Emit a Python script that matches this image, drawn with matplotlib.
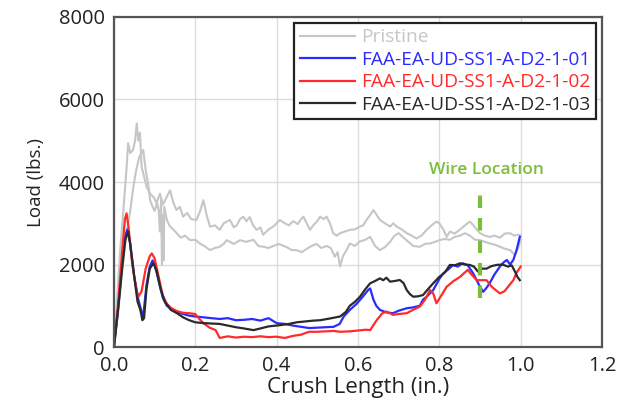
import matplotlib
import matplotlib.pyplot as plt

matplotlib.use("Agg")

plt.rcParams["font.family"] = ["Open Sans", "DejaVu Sans"]

# ---------- data ----------
pristine_a_x = [0, 0.008, 0.015, 0.023, 0.03, 0.035, 0.04, 0.047, 0.052, 0.056,
                0.06, 0.064, 0.068, 0.075, 0.08, 0.09, 0.097, 0.105, 0.113, 0.12,
                0.128, 0.138, 0.146, 0.154, 0.162, 0.17, 0.18, 0.19, 0.203, 0.212,
                0.22, 0.228, 0.236, 0.248, 0.26, 0.27, 0.285, 0.295, 0.302, 0.31,
                0.318, 0.326, 0.334, 0.342, 0.351, 0.36, 0.367, 0.38, 0.392, 0.40,
                0.408, 0.42, 0.43, 0.441, 0.452, 0.46, 0.466, 0.474, 0.482, 0.49,
                0.5, 0.507, 0.515, 0.523, 0.531, 0.539, 0.548, 0.556, 0.568, 0.58,
                0.592, 0.605, 0.613, 0.621, 0.63, 0.638, 0.646, 0.654, 0.666, 0.679,
                0.687, 0.695, 0.708, 0.72, 0.732, 0.744, 0.756, 0.769, 0.781, 0.793,
                0.80, 0.81, 0.818, 0.826, 0.838, 0.851, 0.863, 0.875, 0.884, 0.892,
                0.9, 0.912, 0.924, 0.936, 0.949, 0.961, 0.974, 0.984, 0.994, 1.0]
pristine_a_y = [0, 1200, 2300, 3300, 4200, 4940, 4700, 4780, 5000, 5420,
                5000, 5190, 4370, 4100, 3890, 3700, 3640, 3500, 3720, 3450,
                3600, 3800, 3500, 3320, 3400, 3160, 3250, 3100, 3080, 3300,
                3560, 3200, 2920, 2950, 2840, 3000, 3080, 2900, 2950, 3100,
                3160, 3050, 3150, 2950, 2840, 2900, 2720, 2850, 2920, 3000,
                3080, 3000, 2950, 3050, 2980, 3100, 3160, 3000, 2840, 2950,
                3050, 3160, 3100, 3160, 3000, 2760, 2700, 2760, 2800, 2840,
                2850, 2920, 2950, 3080, 3200, 3320, 3200, 3080, 3000, 2920,
                3000, 2920, 2850, 2760, 2700, 2630, 2700, 2840, 2950, 3040,
                3000, 2850, 2670, 2800, 2750, 2850, 2950, 3040, 2950, 2850,
                2760, 2700, 2670, 2700, 2650, 2750, 2760, 2700, 2720, 2710]

pristine_b_x = [0, 0.01, 0.02, 0.03, 0.04, 0.048, 0.055, 0.062, 0.068, 0.072,
                0.078, 0.085, 0.089, 0.095, 0.1, 0.106, 0.11, 0.113, 0.116, 0.118,
                0.12, 0.122, 0.124, 0.13, 0.138, 0.146, 0.155, 0.165, 0.175, 0.187,
                0.2, 0.211, 0.222, 0.236, 0.248, 0.26, 0.27, 0.277, 0.285, 0.295,
                0.31, 0.325, 0.343, 0.355, 0.367, 0.38, 0.392, 0.405, 0.425, 0.437,
                0.449, 0.462, 0.474, 0.486, 0.498, 0.51, 0.523, 0.533, 0.543, 0.55,
                0.556, 0.563, 0.572, 0.58, 0.592, 0.605, 0.618, 0.63, 0.642, 0.654,
                0.666, 0.679, 0.69, 0.70, 0.712, 0.724, 0.736, 0.752, 0.765, 0.777,
                0.79, 0.80, 0.813, 0.826, 0.838, 0.851, 0.863, 0.875, 0.888, 0.9,
                0.912, 0.924, 0.937, 0.949, 0.962, 0.974, 0.986, 0.994, 1.0]
pristine_b_y = [0, 800, 1800, 2700, 3300, 3900, 4300, 4600, 4700, 4780,
                4300, 3900, 3560, 3400, 3300, 3500, 3300, 2800, 3600, 2000,
                3200, 2100, 3400, 3080, 2920, 2850, 2750, 2650, 2700, 2590,
                2600, 2510, 2450, 2350, 2400, 2430, 2500, 2590, 2550, 2500,
                2590, 2550, 2600, 2450, 2430, 2400, 2450, 2500, 2420, 2350,
                2350, 2300, 2380, 2450, 2500, 2400, 2450, 2400, 2190, 2300,
                1950, 2200, 2350, 2510, 2450, 2560, 2600, 2670, 2450, 2350,
                2420, 2550, 2700, 2760, 2650, 2550, 2450, 2430, 2500, 2510,
                2550, 2590, 2620, 2600, 2670, 2700, 2760, 2700, 2600, 2590,
                2550, 2510, 2480, 2430, 2380, 2350, 2230, 2400, 2600]

blue_x = [0, 0.01, 0.02, 0.028, 0.033, 0.04, 0.05, 0.06, 0.068, 0.072,
          0.08, 0.088, 0.095, 0.10, 0.11, 0.12, 0.13, 0.14, 0.155, 0.17,
          0.185, 0.2, 0.22, 0.24, 0.26, 0.28, 0.30, 0.32, 0.34, 0.36,
          0.38, 0.40, 0.42, 0.44, 0.46, 0.48, 0.50, 0.52, 0.54, 0.555,
          0.565, 0.58, 0.597, 0.61, 0.625, 0.63, 0.638, 0.645, 0.654, 0.67,
          0.686, 0.70, 0.72, 0.735, 0.752, 0.76, 0.769, 0.777, 0.785, 0.80,
          0.81, 0.822, 0.834, 0.845, 0.858, 0.87, 0.883, 0.893, 0.9, 0.908,
          0.915, 0.924, 0.935, 0.949, 0.958, 0.966, 0.974, 0.982, 0.99, 0.998]
blue_y = [0, 900, 2000, 2700, 2850, 2500, 1700, 1150, 850, 750,
          1500, 1950, 2100, 2000, 1600, 1200, 1000, 930, 850, 800,
          760, 740, 720, 700, 680, 700, 650, 660, 680, 640,
          700, 580, 560, 520, 490, 460, 470, 480, 490, 560,
          740, 900, 1050, 1200, 1380, 1420, 1150, 1000, 900, 840,
          820, 880, 940, 960, 1000, 1150, 1220, 1300, 1380, 1650,
          1790, 1880, 1990, 1950, 2030, 1980, 1790, 1600, 1460, 1340,
          1420, 1550, 1750, 1950, 2050, 2110, 2000, 2110, 2350, 2670]

red_x = [0, 0.01, 0.02, 0.027, 0.031, 0.036, 0.045, 0.055, 0.06, 0.068,
         0.078, 0.088, 0.093, 0.1, 0.11, 0.12, 0.13, 0.14, 0.155, 0.17,
         0.185, 0.2, 0.21, 0.22, 0.235, 0.25, 0.26, 0.28, 0.30, 0.32,
         0.34, 0.36, 0.38, 0.40, 0.42, 0.44, 0.46, 0.48, 0.50, 0.52,
         0.54, 0.556, 0.58, 0.60, 0.62, 0.63, 0.646, 0.66, 0.67, 0.686,
         0.70, 0.72, 0.735, 0.752, 0.765, 0.777, 0.785, 0.793, 0.805, 0.818,
         0.835, 0.851, 0.862, 0.87, 0.88, 0.892, 0.905, 0.916, 0.93, 0.949,
         0.96, 0.969, 0.982, 0.99, 1.0]
red_y = [0, 1000, 2300, 3100, 3240, 2900, 2000, 1400, 1220, 1350,
         1900, 2200, 2270, 2150, 1700, 1250, 1050, 950, 870, 830,
         820, 800, 680, 580, 470, 410, 220, 260, 230, 250,
         240, 260, 240, 250, 220, 270, 300, 370, 370, 380,
         390, 370, 380, 400, 420, 410, 650, 820, 860, 780,
         800, 820, 900, 980, 1150, 1380, 1300, 1060, 1250, 1460,
         1600, 1700, 1800, 1870, 1750, 1620, 1620, 1620, 1450, 1300,
         1350, 1460, 1620, 1800, 1950]

black_x = [0, 0.01, 0.02, 0.028, 0.035, 0.04, 0.05, 0.058, 0.065, 0.07,
           0.074, 0.08, 0.088, 0.097, 0.105, 0.115, 0.125, 0.14, 0.155, 0.17,
           0.185, 0.2, 0.22, 0.24, 0.26, 0.28, 0.30, 0.32, 0.343, 0.36,
           0.38, 0.408, 0.43, 0.45, 0.47, 0.49, 0.507, 0.53, 0.556, 0.57,
           0.58, 0.593, 0.605, 0.618, 0.63, 0.642, 0.654, 0.662, 0.67, 0.679,
           0.69, 0.703, 0.712, 0.72, 0.728, 0.736, 0.748, 0.76, 0.772, 0.785,
           0.80, 0.813, 0.826, 0.838, 0.851, 0.863, 0.875, 0.885, 0.895, 0.905,
           0.916, 0.928, 0.941, 0.955, 0.969, 0.978, 0.986, 0.992, 0.998]
black_y = [0, 900, 1900, 2600, 2800, 2500, 1700, 1100, 900, 650,
           700, 1400, 1900, 2030, 1850, 1400, 1100, 900, 820, 720,
           650, 600, 580, 570, 560, 520, 480, 450, 410, 450,
           500, 530, 560, 600, 620, 640, 650, 690, 740, 850,
           1000, 1100, 1220, 1400, 1545, 1600, 1665, 1620, 1680, 1585,
           1600, 1625, 1550, 1380, 1280, 1220, 1230, 1260, 1400, 1545,
           1700, 1800, 1990, 1980, 2030, 2000, 1990, 1950, 1830, 1900,
           1900, 1960, 1990, 2000, 1950, 1980, 1830, 1700, 1620]

labels = ["Pristine", "FAA-EA-UD-SS1-A-D2-1-01",
          "FAA-EA-UD-SS1-A-D2-1-02", "FAA-EA-UD-SS1-A-D2-1-03"]
colors = ["#c6c6c6", "#2b2bff", "#ff2b2b", "#2a2a2a"]

wire_x = 0.9
wire_y = [1200, 3800]

# ---------- figure ----------
fig = plt.figure(figsize=(6.33, 4.04), dpi=100)
ax = fig.add_axes([0.180, 0.141, 0.771, 0.817])

ax.plot(pristine_a_x, pristine_a_y, color=colors[0], lw=1.5, label=labels[0])
ax.plot(pristine_b_x, pristine_b_y, color=colors[0], lw=1.5)
ax.plot(blue_x, blue_y, color=colors[1], lw=1.6, label=labels[1])
ax.plot(red_x, red_y, color=colors[2], lw=1.6, label=labels[2])
ax.plot(black_x, black_y, color=colors[3], lw=1.6, label=labels[3])

ax.plot([wire_x, wire_x], wire_y, color="#7dbd3c", lw=3, dashes=(3, 2.4))
ax.text(0.915, 4300, "Wire Location", color="#7dbd3c", fontsize=12.5,
        fontweight="semibold", ha="center", va="center")

ax.set_xlim(0, 1.2)
ax.set_ylim(0, 8000)
ax.set_xticks([0.0, 0.2, 0.4, 0.6, 0.8, 1.0, 1.2])
ax.set_xticklabels(["0.0", "0.2", "0.4", "0.6", "0.8", "1.0", "1.2"])
ax.set_yticks([0, 2000, 4000, 6000, 8000])
ax.tick_params(length=0, labelsize=14.5, colors="#222222", pad=6.5)
ax.grid(True, color="#dcdcdc", lw=1)
ax.set_axisbelow(True)
for sp in ax.spines.values():
    sp.set_color("#555555")
    sp.set_linewidth(1.6)

ax.set_xlabel("Crush Length (in.)", fontsize=16, color="#222222", labelpad=1)
ax.set_ylabel("Load (lbs.)", fontsize=13.5, color="#222222", labelpad=10)

leg = ax.legend(loc="upper right", fontsize=13.8, frameon=True, fancybox=False,
                framealpha=1, edgecolor="#222222", borderaxespad=0.3,
                handlelength=2.9, handletextpad=0.3, labelspacing=0.23,
                borderpad=0.3)
leg.get_frame().set_linewidth(1.6)
for txt, c in zip(leg.get_texts(), colors):
    txt.set_color(c)

fig.savefig("out.png", dpi=100)
